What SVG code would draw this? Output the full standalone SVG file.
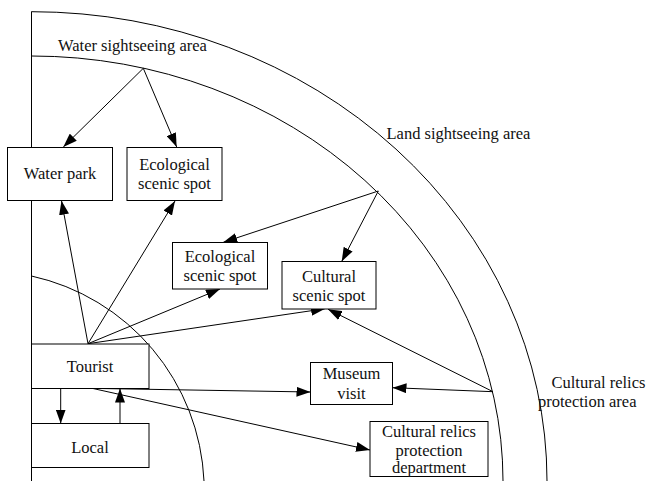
<svg xmlns="http://www.w3.org/2000/svg" width="649" height="481" viewBox="0 0 649 481">
<defs>
<marker id="ah" markerUnits="userSpaceOnUse" markerWidth="14" markerHeight="10" refX="14" refY="5" orient="auto">
<path d="M0,0 L14,5 L0,10 z" fill="#000"/>
</marker>
<style>
.box{fill:#fff;stroke:#000;stroke-width:1}
.t{font-family:"Liberation Serif","Times New Roman",serif;font-size:16.5px;fill:#111;text-anchor:middle}
.ts{font-family:"Liberation Serif","Times New Roman",serif;font-size:16.5px;fill:#111}
.arc{fill:none;stroke:#000;stroke-width:1}
.c{stroke:#000;stroke-width:1;fill:none;marker-end:url(#ah)}
</style>
</defs>
<rect width="649" height="481" fill="#fff"/>
<g id="areas">
<line x1="31.5" y1="11.5" x2="31.5" y2="481" class="arc"/>
<path class="arc" d="M31.5,11.7 A515.5,469.3 0 0,1 547,481"/>
<path class="arc" d="M31.5,56 A471.5,425 0 0,1 503,481"/>
<path class="arc" d="M31.5,276 A220,220 0 0,1 204,481"/>
<text class="ts" x="58" y="50.5">Water sightseeing area</text>
<text class="ts" x="386.5" y="139">Land sightseeing area</text>
<text class="ts" x="551.5" y="388">Cultural relics</text>
<text class="ts" x="538" y="406.5">protection area</text>
</g>
<g id="connectors">
<line class="c" x1="143.3" y1="68.3" x2="63.3" y2="147"/>
<line class="c" x1="143.3" y1="68.3" x2="176.7" y2="147"/>
<line class="c" x1="378.3" y1="191" x2="223.3" y2="242.3"/>
<line class="c" x1="378.3" y1="191" x2="341.7" y2="261.5"/>
<line class="c" x1="88" y1="343.7" x2="61.5" y2="200.7"/>
<line class="c" x1="88" y1="343.7" x2="175" y2="201"/>
<line class="c" x1="88" y1="343.7" x2="220" y2="289"/>
<line class="c" x1="88" y1="343.7" x2="325" y2="308.7"/>
<line class="c" x1="493" y1="391.7" x2="328" y2="309.2"/>
<line class="c" x1="493" y1="391.7" x2="392.5" y2="387.7"/>
<line class="c" x1="88" y1="388.3" x2="310.5" y2="392"/>
<line class="c" x1="93" y1="388.5" x2="370" y2="450"/>
<line class="c" x1="60.7" y1="388.5" x2="60.7" y2="423.5"/>
<line class="c" x1="120" y1="423.5" x2="120" y2="388.5"/>
</g>
<g id="waterpark"><rect class="box" x="7.5" y="147.5" width="105" height="53"/><text class="t" x="60" y="179">Water park</text></g>
<g id="eco1"><rect class="box" x="127" y="147.5" width="95" height="53"/><text class="t" x="174.5" y="170">Ecological</text><text class="t" x="174.5" y="189">scenic spot</text></g>
<g id="eco2"><rect class="box" x="172.5" y="242.5" width="95" height="46.5"/><text class="t" x="220" y="261.5">Ecological</text><text class="t" x="220" y="280.5">scenic spot</text></g>
<g id="cultural"><rect class="box" x="282" y="261.5" width="94" height="47.5"/><text class="t" x="329" y="281.5">Cultural</text><text class="t" x="329" y="300.5">scenic spot</text></g>
<g id="tourist"><rect class="box" x="31.5" y="344" width="117.5" height="44.5"/><text class="t" x="90" y="372">Tourist</text></g>
<g id="local"><rect class="box" x="31.5" y="423.5" width="117.5" height="44"/><text class="t" x="90" y="452.5">Local</text></g>
<g id="museum"><rect class="box" x="310.5" y="362.5" width="82" height="42"/><text class="t" x="351.5" y="379">Museum</text><text class="t" x="351.5" y="398.5">visit</text></g>
<g id="dept"><rect class="box" x="370" y="421.5" width="118" height="55"/><text class="t" x="429" y="436.5">Cultural relics</text><text class="t" x="429" y="455.5">protection</text><text class="t" x="429" y="473">department</text></g>
</svg>
